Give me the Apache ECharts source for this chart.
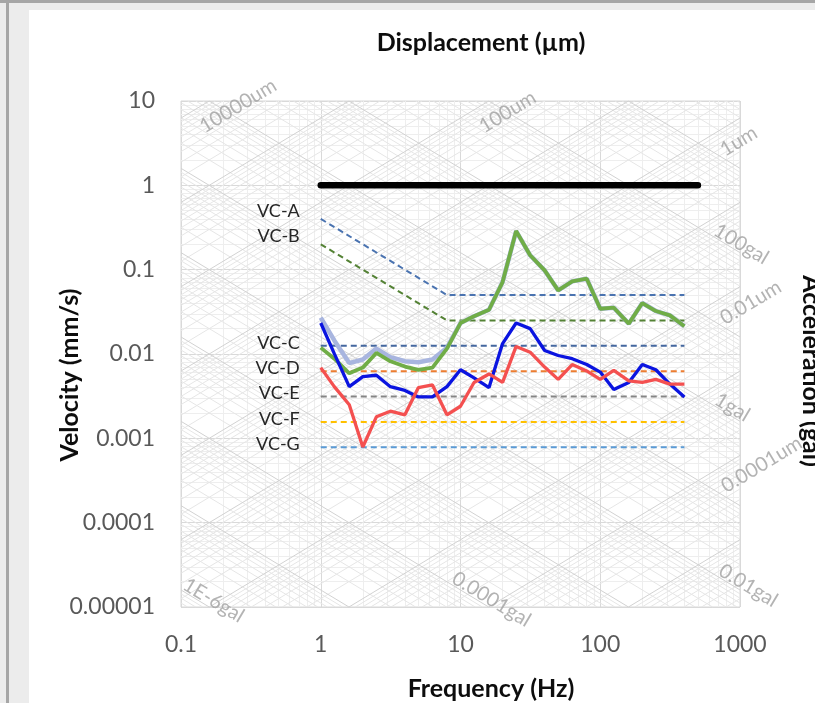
<!DOCTYPE html>
<html>
<head>
<meta charset="UTF-8">
<title>Vibration criteria</title>
<script src="https://cdn.jsdelivr.net/npm/echarts@6/dist/echarts.min.js"></script>
<style>
html, body { margin: 0; padding: 0; background: #ececec; }
#main { width: 815px; height: 703px; }
</style>
</head>
<body>
<div id="main"></div>
<script>
// 1/3 octave band centre frequencies (Hz)
var freqs = [1, 1.25, 1.6, 2, 2.5, 3.15, 4, 5, 6.3, 8, 10, 12.5, 16, 20, 25, 31.5, 40, 50, 63, 80, 100, 125, 160, 200, 250, 315, 400];

// measured velocities (mm/s)
var lavender = [0.027, 0.0145, 0.0078, 0.0086, 0.0116, 0.0092, 0.0082, 0.0080, 0.0086, 0.0119, 0.0233, 0.028, 0.0335, 0.0713, 0.287, 0.148, 0.098, 0.0568, 0.0727, 0.0782, 0.0344, 0.0354, 0.0229, 0.0402, 0.0323, 0.0287, 0.0213];
var green = [0.0119, 0.0088, 0.0059, 0.0069, 0.0103, 0.0082, 0.0071, 0.0065, 0.0069, 0.0116, 0.0233, 0.028, 0.0335, 0.0713, 0.287, 0.148, 0.098, 0.0568, 0.0727, 0.0782, 0.0344, 0.0354, 0.0229, 0.0402, 0.0323, 0.0287, 0.0213];
var blue = [0.0233, 0.0101, 0.0041, 0.0054, 0.0056, 0.0041, 0.0037, 0.0031, 0.0031, 0.0041, 0.0065, 0.0052, 0.0040, 0.0133, 0.0233, 0.020, 0.011, 0.0096, 0.0088, 0.0075, 0.0061, 0.0038, 0.0046, 0.0075, 0.0065, 0.0044, 0.0031];
var red = [0.0069, 0.0041, 0.0025, 0.00079, 0.0018, 0.0021, 0.0019, 0.0040, 0.0043, 0.0019, 0.0024, 0.0046, 0.0058, 0.0046, 0.0123, 0.0105, 0.0070, 0.0050, 0.0075, 0.0063, 0.0050, 0.0064, 0.0048, 0.0046, 0.0050, 0.0044, 0.0044];

// VC criteria (mm/s)
var vcNames = ['VC-A', 'VC-B', 'VC-C', 'VC-D', 'VC-E', 'VC-F', 'VC-G'];
var vcLevels = [0.05, 0.025, 0.0125, 0.00625, 0.003125, 0.0015625, 0.00078125];
var vcAt1Hz = [0.4, 0.2];          // VC-A, VC-B start values at 1 Hz
var vcKnee = 8, vcFrom = 1, vcTo = 400;
var vcColors = ['#4a73b0', '#548235', '#44679f', '#ed7d31', '#858585', '#ffc000', '#5b9bd5'];

// black limit line
var limitFreq = [1, 500];
var limitVel = [1, 1];

var xTicks = ['0.1', '1', '10', '100', '1000'];
var yTicks = ['0.00001', '0.0001', '0.001', '0.01', '0.1', '1', '10'];

// tripartite labels: displacement lines (mm) and acceleration lines (mm/s^2)
var dispLabels = [['10000um', 10, 0.2], ['100um', 0.1, 17], ['1um', 0.001, 765], ['0.01um', 0.00001, 933], ['0.0001um', 0.0000001, 1117]];
var accLabels = [['100gal', 1000, 902], ['1gal', 10, 778], ['0.01gal', 0.1, 1012], ['0.0001gal', 0.001, 14.7], ['1E-6gal', 0.00001, 0.151]];

var FONT = 'Lato, "Open Sans", sans-serif';
var F0 = 0.1, F1 = 1000, V0 = 0.00001, V1 = 10;
var TWO_PI = 2 * Math.PI;

function dispSeg(D) {
    var lo = Math.max(F0, V0 / (TWO_PI * D)), hi = Math.min(F1, V1 / (TWO_PI * D));
    if (hi / lo < 1.001) return null;
    return { coords: [[lo, TWO_PI * lo * D], [hi, TWO_PI * hi * D]] };
}
function accSeg(A) {
    var lo = Math.max(F0, A / (TWO_PI * V1)), hi = Math.min(F1, A / (TWO_PI * V0));
    if (hi / lo < 1.001) return null;
    return { coords: [[lo, A / (TWO_PI * lo)], [hi, A / (TWO_PI * hi)]] };
}

var majorDiag = [], minorDiag = [], minorRect = [];
for (var k = -11; k <= 6; k++) {
    for (var m = 1; m <= 9; m++) {
        var s1 = dispSeg(m * Math.pow(10, k));
        var s2 = accSeg(m * Math.pow(10, k));
        var arr = (m === 1) ? majorDiag : minorDiag;
        if (s1) arr.push(s1);
        if (s2) arr.push(s2);
    }
}
for (var k = -1; k <= 2; k++) {
    for (var m = 2; m <= 9; m++) {
        var f = m * Math.pow(10, k);
        minorRect.push({ coords: [[f, V0], [f, V1]] });
    }
}
for (var k = -5; k <= 0; k++) {
    for (var m = 2; m <= 9; m++) {
        var v = m * Math.pow(10, k);
        minorRect.push({ coords: [[F0, v], [F1, v]] });
    }
}

var labelData = [];
dispLabels.forEach(function (d) {
    labelData.push({ value: [d[2], TWO_PI * d[2] * d[1]], name: d[0],
        label: { rotate: 31, offset: [6, 19] } });
});
accLabels.forEach(function (d) {
    labelData.push({ value: [d[2], d[1] / (TWO_PI * d[2])], name: d[0],
        label: { rotate: -31, offset: [4, -8] } });
});

function zip(xs, ys) {
    return xs.map(function (x, i) { return [x, ys[i]]; });
}

var series = [
    { type: 'lines', coordinateSystem: 'cartesian2d', silent: true, data: minorRect,
      lineStyle: { color: '#eeeeee', width: 1, opacity: 1 } },
    { type: 'lines', coordinateSystem: 'cartesian2d', silent: true, data: minorDiag,
      lineStyle: { color: '#e6e6e6', width: 1, opacity: 1 } },
    { type: 'lines', coordinateSystem: 'cartesian2d', silent: true, data: majorDiag,
      lineStyle: { color: '#d2d2d2', width: 1, opacity: 1 } },
    { type: 'scatter', symbolSize: 0, clip: false, silent: true, data: labelData,
      label: { show: true, position: 'inside', formatter: '{b}', color: '#a0a0a0',
               fontSize: 20, fontFamily: FONT } }
];

vcNames.forEach(function (name, i) {
    var pts;
    if (i < vcAt1Hz.length) {
        pts = [[vcFrom, vcAt1Hz[i]], [vcKnee, vcLevels[i]], [vcTo, vcLevels[i]]];
    } else {
        pts = [[vcFrom, vcLevels[i]], [vcTo, vcLevels[i]]];
    }
    pts[0] = { value: pts[0], label: { show: true, formatter: name, position: 'left',
        distance: 21, offset: [0, i < 2 ? -8 : -3], color: '#262626', fontSize: 18, fontFamily: FONT } };
    series.push({ name: name, type: 'line', data: pts, showSymbol: true, symbolSize: 0,
        lineStyle: { color: vcColors[i], width: 2, type: [6, 4] }, silent: true });
});

series.push(
    { name: 'Lavender', type: 'line', data: zip(freqs, lavender), showSymbol: false,
      lineStyle: { color: '#a8b5df', width: 4.5 } },
    { name: 'Green', type: 'line', data: zip(freqs, green), showSymbol: false,
      lineStyle: { color: '#70ad47', width: 3.8 } },
    { name: 'Blue', type: 'line', data: zip(freqs, blue), showSymbol: false,
      lineStyle: { color: '#0a14e0', width: 3.3 } },
    { name: 'Red', type: 'line', data: zip(freqs, red), showSymbol: false,
      lineStyle: { color: '#f45050', width: 3.3 } },
    { name: 'Limit', type: 'line', data: zip(limitFreq, limitVel), showSymbol: false,
      lineStyle: { color: '#000', width: 6.5, cap: 'round' } }
);

var myChart = echarts.init(document.getElementById('main'), null, { renderer: 'canvas' });

var option = {
    animation: false,
    backgroundColor: '#ececec',
    graphic: [
        { type: 'rect', shape: { x: 29, y: 10, width: 786, height: 693 }, style: { fill: '#fff' }, z: -10 },
        { type: 'rect', shape: { x: 0, y: 0, width: 815, height: 3 }, style: { fill: '#a6a6a6' }, z: -10 },
        { type: 'rect', shape: { x: 6, y: 0, width: 3, height: 703 }, style: { fill: '#a6a6a6' }, z: -10 },
        { type: 'text', x: 481, y: 43, style: { text: 'Displacement (µm)', font: 'bold 25px ' + FONT,
            fill: '#0d0d0d', align: 'center', verticalAlign: 'middle' } },
        { type: 'text', x: 491, y: 689, style: { text: 'Frequency (Hz)', font: 'bold 25px ' + FONT,
            fill: '#0d0d0d', align: 'center', verticalAlign: 'middle' } },
        { type: 'text', x: 70, y: 375, rotation: Math.PI / 2, style: { text: 'Velocity (mm/s)', font: 'bold 25px ' + FONT,
            fill: '#0d0d0d', align: 'center', verticalAlign: 'middle' } },
        { type: 'text', x: 811, y: 371, rotation: -Math.PI / 2, style: { text: 'Acceleration (gal)', font: 'bold 25px ' + FONT,
            fill: '#0d0d0d', align: 'center', verticalAlign: 'middle' } }
    ],
    grid: { left: 181, right: 75, top: 101, bottom: 96, show: true, backgroundColor: '#fff',
            borderColor: '#d9d9d9', borderWidth: 1 },
    xAxis: {
        type: 'log', logBase: 10, min: F0, max: F1,
        axisLine: { show: false }, axisTick: { show: false },
        splitLine: { show: true, lineStyle: { color: '#d9d9d9' } },
        axisLabel: { color: '#595959', fontSize: 23, margin: 26, fontFamily: FONT,
            formatter: function (v) { return xTicks[Math.round(Math.log10(v)) + 1]; } }
    },
    yAxis: {
        type: 'log', logBase: 10, min: V0, max: V1,
        axisLine: { show: false }, axisTick: { show: false },
        splitLine: { show: true, lineStyle: { color: '#d9d9d9' } },
        axisLabel: { color: '#595959', fontSize: 23, margin: 26, fontFamily: FONT,
            formatter: function (v) { return yTicks[Math.round(Math.log10(v)) + 5]; } }
    },
    series: series
};
myChart.setOption(option);
</script>
</body>
</html>
